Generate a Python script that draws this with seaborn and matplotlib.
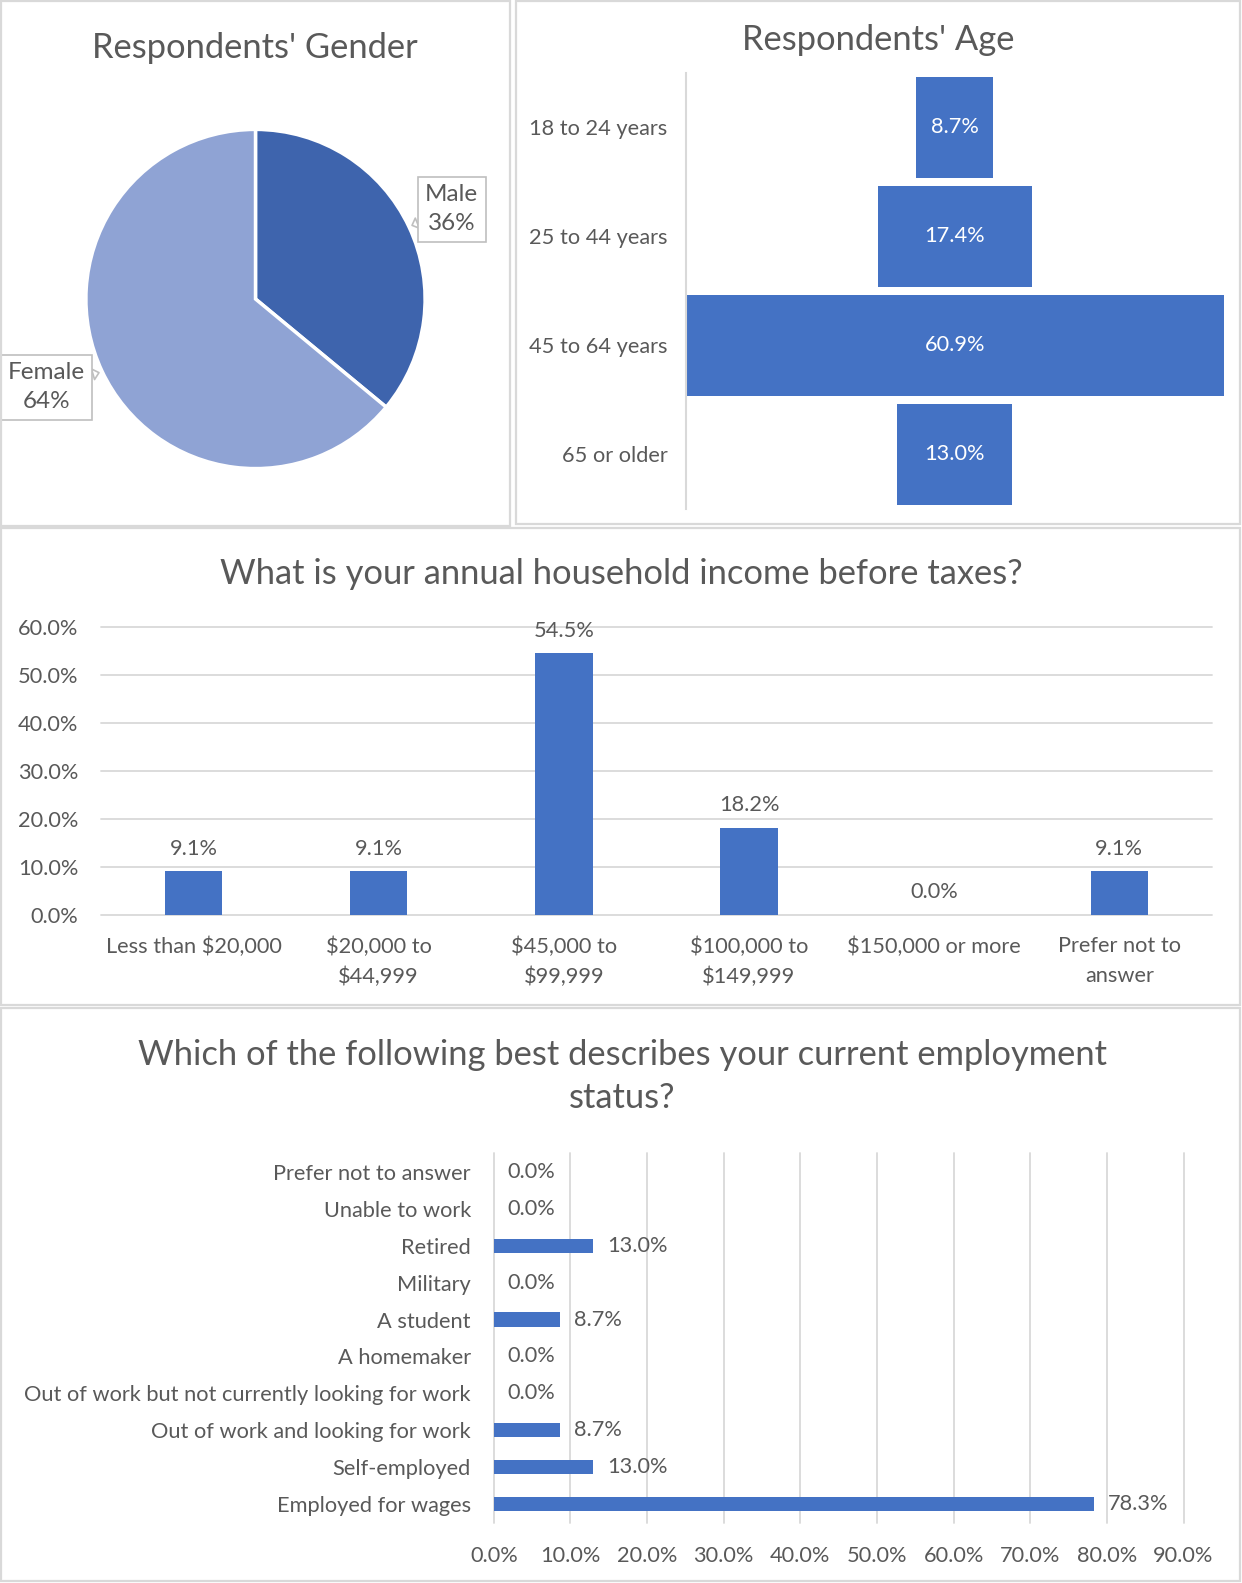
import numpy as np
import matplotlib
matplotlib.use("Agg")
import matplotlib.pyplot as plt
from matplotlib.patches import Rectangle
import seaborn as sns

# ---- data -------------------------------------------------------------
gender_labels = ["Male", "Female"]
gender_share = [36, 64]
gender_colors = ["#3E64AD", "#8FA3D4"]

age_groups = ["18 to 24 years", "25 to 44 years", "45 to 64 years", "65 or older"]
age_share = [8.7, 17.4, 60.9, 13.0]

income_brackets = ["Less than $20,000", "$20,000 to\n$44,999", "$45,000 to\n$99,999",
                   "$100,000 to\n$149,999", "$150,000 or more", "Prefer not to\nanswer"]
income_share = [9.1, 9.1, 54.5, 18.2, 0.0, 9.1]
income_ticks = [0, 10, 20, 30, 40, 50, 60]

employment_status = ["Prefer not to answer", "Unable to work", "Retired", "Military",
                     "A student", "A homemaker",
                     "Out of work but not currently looking for work",
                     "Out of work and looking for work", "Self-employed",
                     "Employed for wages"]
employment_share = [0.0, 0.0, 13.0, 0.0, 8.7, 0.0, 0.0, 8.7, 13.0, 78.3]
employment_ticks = [0, 10, 20, 30, 40, 50, 60, 70, 80, 90]

# ---- style ------------------------------------------------------------
sns.set_style("white")
plt.rcParams["font.family"] = ["Lato", "DejaVu Sans"]
TEXT = "#595959"
GRID = "#D9D9D9"
BAR = "#4472C4"
TITLE_FS = 24.8
LABEL_FS = 15.7
PIE_FS = 17.5

W, H = 1242, 1583
fig = plt.figure(figsize=(W / 100, H / 100), dpi=100)


def box(x0, y0, x1, y1):
    """Pixel box (top-left origin) -> figure fraction rect."""
    return [x0 / W, 1 - y1 / H, (x1 - x0) / W, (y1 - y0) / H]


def fig_xy(x, y):
    return x / W, 1 - y / H


# panel frames
for x0, y0, x1, y1 in [(1, 1, 510, 526), (516, 1, 1240, 524),
                       (1, 528, 1240, 1005), (1, 1008, 1240, 1581)]:
    fig.patches.append(Rectangle((x0 / W, 1 - y1 / H), (x1 - x0) / W, (y1 - y0) / H,
                                 transform=fig.transFigure, fill=False,
                                 ec=GRID, lw=1.6))

# ---- gender pie -------------------------------------------------------
cx, cy, r = 255.5, 299.0, 169.6
half = 255
ax_p = fig.add_axes(box(cx - half, cy - half, cx + half, cy + half))
wedges, _ = ax_p.pie(gender_share, colors=gender_colors, startangle=90,
                     counterclock=False,
                     wedgeprops=dict(edgecolor="white", linewidth=2.5))
lim = half / r
ax_p.set_xlim(-lim, lim)
ax_p.set_ylim(-lim, lim)
ax_p.set_aspect("equal")
ax_p.axis("off")

# callout placement: distance from centre and small angular nudge (degrees)
label_dist = [1.273, 1.337]
label_nudge = [-0.6, -2.3]
for w, lab, val, d, nudge in zip(wedges, gender_labels, gender_share,
                                 label_dist, label_nudge):
    mid = np.deg2rad((w.theta1 + w.theta2) / 2)
    ang = mid + np.deg2rad(nudge)
    ax_p.annotate(f"{lab}\n{val}%",
                  xy=(1.02 * np.cos(mid), 1.02 * np.sin(mid)),
                  xytext=(d * np.cos(ang), d * np.sin(ang)),
                  ha="center", va="center", color=TEXT, fontsize=PIE_FS,
                  linespacing=1.5, annotation_clip=False,
                  bbox=dict(boxstyle="square,pad=0.3", fc="white", ec="#BFBFBF", lw=1.2),
                  arrowprops=dict(arrowstyle="wedge,tail_width=0.45,shrink_factor=0.5",
                                  fc="white", ec="#BFBFBF", lw=1.2,
                                  shrinkA=0, shrinkB=0))

fig.text(*fig_xy(254.5, 47.5), "Respondents' Gender", ha="center", va="center",
         fontsize=TITLE_FS, color=TEXT)

# ---- age funnel -------------------------------------------------------
ax_a = fig.add_axes(box(685.6, 72.7, 1223.9, 508.9))
sns.barplot(x=age_share, y=age_groups, orient="h", color=BAR, saturation=1,
            width=0.926, linewidth=0, errorbar=None, ax=ax_a)
for p in ax_a.patches:
    p.set_x(-p.get_width() / 2)
span = max(age_share) / 2
ax_a.set_xlim(-span, span)
ax_a.set_ylim(len(age_groups) - 0.5, -0.5)
for i, v in enumerate(age_share):
    ax_a.text(0, i, f"{v:.1f}%", ha="center", va="center", color="white",
              fontsize=LABEL_FS)
for s in ["top", "right", "bottom"]:
    ax_a.spines[s].set_visible(False)
ax_a.spines["left"].set_color(GRID)
ax_a.spines["left"].set_linewidth(1.5)
ax_a.set_xticks([])
ax_a.set_xlabel("")
ax_a.set_ylabel("")
ax_a.tick_params(axis="y", length=0, pad=13, labelsize=LABEL_FS, labelcolor=TEXT)
ax_a.set_facecolor("none")

fig.text(*fig_xy(878.5, 40.5), "Respondents' Age", ha="center", va="center",
         fontsize=TITLE_FS, color=TEXT)

# ---- income columns ---------------------------------------------------
ax_i = fig.add_axes(box(101, 627.1, 1211.8, 914.9))
income_disp = [c.replace("$", r"\$") for c in income_brackets]
sns.barplot(x=income_disp, y=income_share, color=BAR, saturation=1, width=0.31,
            linewidth=0, errorbar=None, ax=ax_i)
ax_i.set_ylim(0, 60)
ax_i.set_yticks(income_ticks)
ax_i.set_yticklabels([f"{t:.1f}%" for t in income_ticks])
ax_i.yaxis.grid(True, color=GRID, lw=1.3)
ax_i.set_axisbelow(True)
for gl in ax_i.get_ygridlines():
    gl.set_clip_on(False)
for s in ax_i.spines.values():
    s.set_visible(False)
ax_i.bar_label(ax_i.containers[0], labels=[f"{v:.1f}%" for v in income_share],
               padding=9, color=TEXT, fontsize=LABEL_FS)
ax_i.tick_params(axis="y", length=0, pad=16.5, labelsize=LABEL_FS, labelcolor=TEXT)
ax_i.tick_params(axis="x", length=0, pad=15.5, labelsize=LABEL_FS, labelcolor=TEXT)
for t in ax_i.get_xticklabels():
    t.set_linespacing(1.62)
ax_i.set_xlabel("")
ax_i.set_ylabel("")

fig.text(*fig_xy(621, 573.5), "What is your annual household income before taxes?",
         ha="center", va="center", fontsize=TITLE_FS, color=TEXT)

# ---- employment bars --------------------------------------------------
ax_e = fig.add_axes(box(493.8, 1153.2, 1183.5, 1522.8))
sns.barplot(x=employment_share, y=employment_status, orient="h", color=BAR,
            saturation=1, width=0.38, linewidth=0, errorbar=None, ax=ax_e)
ax_e.set_xlim(0, 90)
ax_e.set_xticks(employment_ticks)
ax_e.set_xticklabels([f"{t:.1f}%" for t in employment_ticks])
ax_e.xaxis.grid(True, color=GRID, lw=1.3)
ax_e.set_axisbelow(True)
for gl in ax_e.get_xgridlines():
    gl.set_clip_on(False)
for s in ax_e.spines.values():
    s.set_visible(False)
ax_e.bar_label(ax_e.containers[0], labels=[f"{v:.1f}%" for v in employment_share],
               padding=10, color=TEXT, fontsize=LABEL_FS)
ax_e.tick_params(axis="y", length=0, pad=16.5, labelsize=LABEL_FS, labelcolor=TEXT)
ax_e.tick_params(axis="x", length=0, pad=17, labelsize=LABEL_FS, labelcolor=TEXT)
ax_e.set_xlabel("")
ax_e.set_ylabel("")

fig.text(*fig_xy(622, 1076.5),
         "Which of the following best describes your current employment\nstatus?",
         ha="center", va="center", fontsize=TITLE_FS, color=TEXT, linespacing=1.45)

fig.savefig("out.png", dpi=100, facecolor="white")
